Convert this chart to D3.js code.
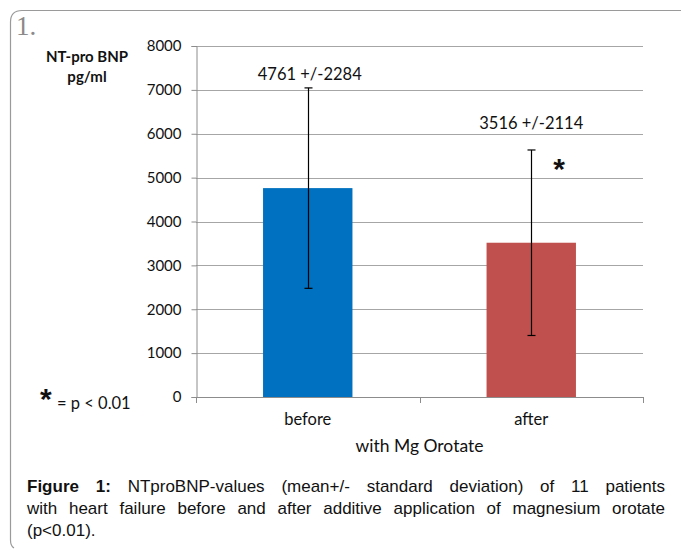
<!DOCTYPE html>
<html>
<head>
<meta charset="utf-8">
<script src="https://cdn.jsdelivr.net/npm/d3@7"></script>
<style>
  body { margin: 0; background: #fff; }
  #wrap { position: relative; width: 681px; height: 550px; }
  svg { position: absolute; left: 0; top: 0; }
  #caption {
    position: absolute; left: 27px; top: 476px; width: 638px;
    font-family: "Liberation Sans", Arial, sans-serif; font-size: 17px;
    line-height: 22px; color: #111;
  }
  #caption div { text-align: justify; text-align-last: justify; white-space: nowrap; }
  #caption div.last { text-align-last: left; }
</style>
</head>
<body>
<div id="wrap">
  <svg width="681" height="550"></svg>
  <div id="caption"></div>
</div>
<script>
// data
const categories = ['before', 'after']
const means = [4761, 3516]
const sds = [2284, 2114]
const valueLabels = ['4761 +/-2284', '3516 +/-2114']
const barColors = ['#0070C0', '#C0504D']
const yTicks = [0, 1000, 2000, 3000, 4000, 5000, 6000, 7000, 8000]
const captionLines = [
    'NTproBNP-values (mean+/- standard deviation) of 11 patients',
    'with heart failure before and after additive application of magnesium orotate',
    '(p<0.01).'
]

const svg = d3.select('svg')
const chartFont = 'Lato, "Open Sans", sans-serif'

const plotLeft = 196
const plotRight = 643
const plotTop = 46
const plotBottom = 397

const yScale = d3.scaleLinear()
    .domain([0, 8000])
    .range([plotBottom, plotTop])

const xScale = d3.scaleBand()
    .domain(categories)
    .range([plotLeft, plotRight])
    .paddingInner(0.6)
    .paddingOuter(0.3)

// frame with rounded corner
svg.append('path')
    .attr('d', 'M681,10.5 L22,10.5 Q10.5,10.5 10.5,22 L10.5,540 Q10.5,546 14,548')
    .attr('fill', 'none')
    .attr('stroke', '#9a9a9a')
    .attr('stroke-width', 1.2)

svg.append('text')
    .attr('x', 16)
    .attr('y', 35)
    .attr('font-family', '"Liberation Serif", serif')
    .attr('font-size', 27)
    .attr('fill', '#8a8a8a')
    .text('1.')

// gridlines
svg.append('g')
    .selectAll('line')
    .data(yTicks.filter(d => d > 0))
    .enter()
    .append('line')
    .attr('x1', plotLeft)
    .attr('x2', plotRight)
    .attr('y1', d => Math.round(yScale(d)) + 0.5)
    .attr('y2', d => Math.round(yScale(d)) + 0.5)
    .attr('stroke', '#a6a6a6')
    .attr('stroke-width', 1)

// y axis
const yAxis = d3.axisLeft(yScale)
    .tickValues(yTicks)
    .tickSize(5)
    .tickPadding(10)
    .tickFormat(d3.format('d'))

const gy = svg.append('g')
    .attr('transform', 'translate(' + (plotLeft + 0.5) + ',0)')
    .call(yAxis)
gy.select('.domain').attr('stroke', '#8c8c8c')
gy.selectAll('.tick line').attr('stroke', '#8c8c8c')
gy.selectAll('.tick text')
    .attr('font-family', chartFont)
    .attr('font-size', 15)
    .attr('fill', '#111')

// bars
svg.selectAll('rect.bar')
    .data(categories)
    .enter()
    .append('rect')
    .attr('class', 'bar')
    .attr('x', d => xScale(d))
    .attr('width', xScale.bandwidth())
    .attr('y', (d, i) => yScale(means[i]))
    .attr('height', (d, i) => plotBottom - yScale(means[i]))
    .attr('fill', (d, i) => barColors[i])

// x axis
const boundaries = [plotLeft, (plotLeft + plotRight) / 2, plotRight]
const gx = svg.append('g')
gx.append('line')
    .attr('x1', plotLeft)
    .attr('x2', plotRight)
    .attr('y1', plotBottom + 0.5)
    .attr('y2', plotBottom + 0.5)
    .attr('stroke', '#8c8c8c')
gx.selectAll('line.tick')
    .data(boundaries)
    .enter()
    .append('line')
    .attr('class', 'tick')
    .attr('x1', d => Math.round(d) + 0.5)
    .attr('x2', d => Math.round(d) + 0.5)
    .attr('y1', plotBottom)
    .attr('y2', plotBottom + 6)
    .attr('stroke', '#8c8c8c')
gx.selectAll('text')
    .data(categories)
    .enter()
    .append('text')
    .attr('x', d => xScale(d) + xScale.bandwidth() / 2)
    .attr('y', 425)
    .attr('text-anchor', 'middle')
    .attr('font-family', chartFont)
    .attr('font-size', 16.5)
    .attr('fill', '#111')
    .text(d => d)

svg.append('text')
    .attr('x', (plotLeft + plotRight) / 2)
    .attr('y', 452)
    .attr('text-anchor', 'middle')
    .attr('font-family', chartFont)
    .attr('font-size', 17.5)
    .attr('fill', '#111')
    .text('with Mg Orotate')

// error bars
const errs = svg.append('g')
categories.forEach((c, i) => {
    const cx = Math.round(xScale(c) + xScale.bandwidth() / 2) + 0.5
    const yHi = yScale(means[i] + sds[i])
    const yLo = yScale(means[i] - sds[i])
    errs.append('line')
        .attr('x1', cx).attr('x2', cx)
        .attr('y1', yHi).attr('y2', yLo)
        .attr('stroke', '#000').attr('stroke-width', 1.2)
    ;[yHi, yLo].forEach(y => {
        errs.append('line')
            .attr('x1', cx - 4).attr('x2', cx + 4)
            .attr('y1', y).attr('y2', y)
            .attr('stroke', '#000').attr('stroke-width', 1.2)
    })
})

// value labels
const labelY = [80, 129]
svg.selectAll('text.val')
    .data(categories)
    .enter()
    .append('text')
    .attr('class', 'val')
    .attr('x', (d, i) => xScale(d) + xScale.bandwidth() / 2 + (i === 0 ? 2 : 0))
    .attr('y', (d, i) => labelY[i])
    .attr('text-anchor', 'middle')
    .attr('font-family', chartFont)
    .attr('font-size', 16.5)
    .attr('fill', '#111')
    .text((d, i) => valueLabels[i])

// significance star
svg.append('text')
    .attr('x', 559)
    .attr('y', 179)
    .attr('text-anchor', 'middle')
    .attr('font-family', '"Liberation Sans", Arial, sans-serif')
    .attr('font-weight', 'bold')
    .attr('font-size', 30)
    .attr('fill', '#111')
    .text('*')

// y title
const yTitle = svg.append('text')
    .attr('text-anchor', 'middle')
    .attr('font-family', chartFont)
    .attr('font-weight', 'bold')
    .attr('font-size', 15)
    .attr('fill', '#111')
yTitle.append('tspan').attr('x', 87).attr('y', 62).text('NT-pro BNP')
yTitle.append('tspan').attr('x', 87).attr('y', 82).text('pg/ml')

// legend note
svg.append('text')
    .attr('x', 40)
    .attr('y', 409)
    .attr('font-family', '"Liberation Sans", Arial, sans-serif')
    .attr('font-weight', 'bold')
    .attr('font-size', 30)
    .attr('fill', '#111')
    .text('*')
svg.append('text')
    .attr('x', 57)
    .attr('y', 409)
    .attr('font-family', chartFont)
    .attr('font-size', 16.5)
    .attr('fill', '#111')
    .text('= p < 0.01')

// caption, one block per printed line
const cap = d3.select('#caption')
captionLines.forEach((line, i) => {
    const row = cap.append('div').classed('last', i === captionLines.length - 1)
    if (i === 0) row.append('b').text('Figure 1: ')
    row.append('span').text(line)
})
</script>
</body>
</html>
